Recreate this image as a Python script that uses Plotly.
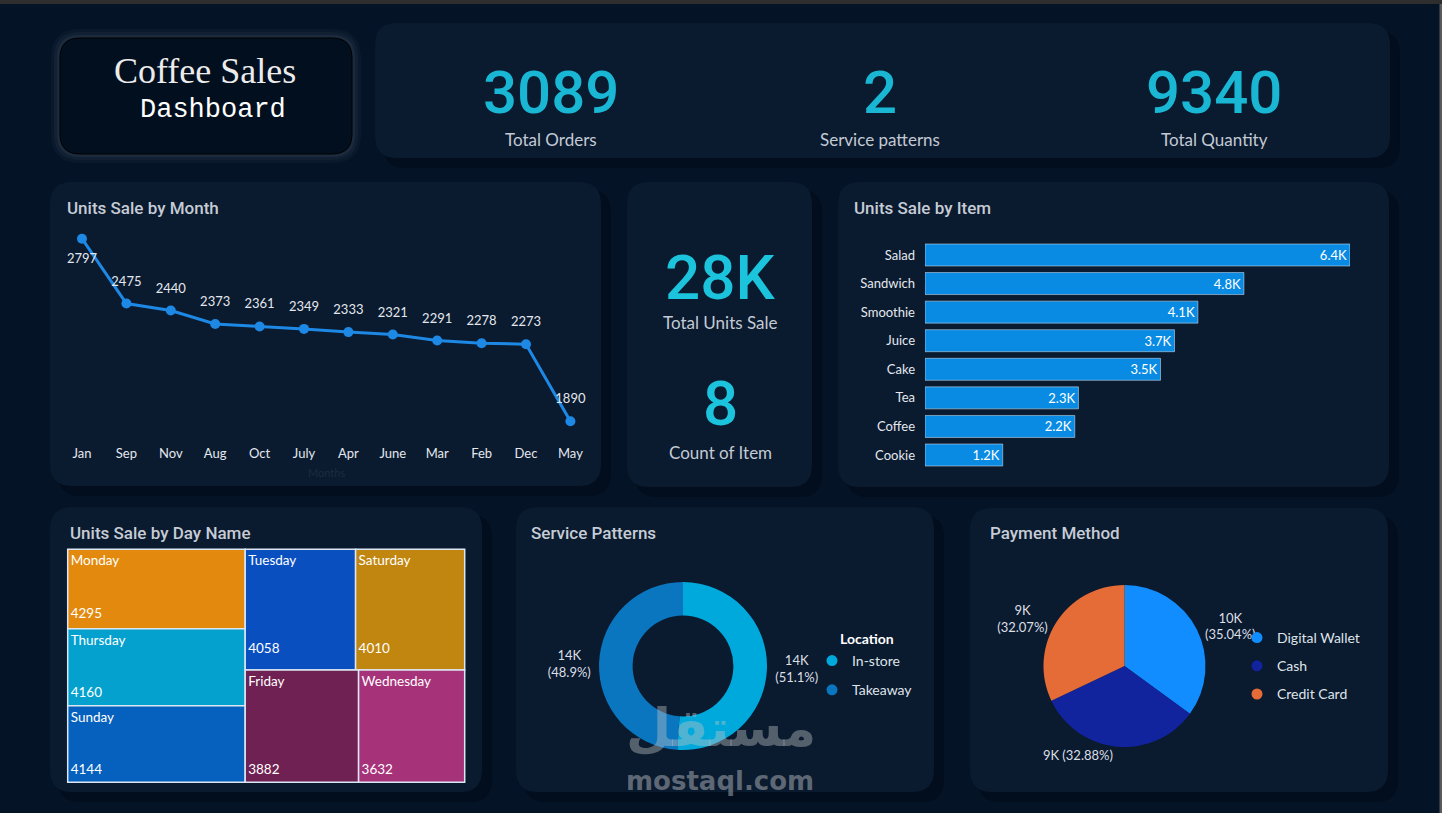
import plotly.graph_objects as go

W, H = 1442, 813

# ---------------- data ----------------
months = ["Jan", "Sep", "Nov", "Aug", "Oct", "July", "Apr", "June", "Mar", "Feb", "Dec", "May"]
month_units = [2797, 2475, 2440, 2373, 2361, 2349, 2333, 2321, 2291, 2278, 2273, 1890]

items = ["Salad", "Sandwich", "Smoothie", "Juice", "Cake", "Tea", "Coffee", "Cookie"]
item_units = [6370, 4780, 4090, 3740, 3530, 2300, 2245, 1165]

days = ["Monday", "Thursday", "Sunday", "Tuesday", "Saturday", "Friday", "Wednesday"]
day_units = [4295, 4160, 4144, 4058, 4010, 3882, 3632]

locations = ["In-store", "Takeaway"]
location_units = [14400, 13781]

payments = ["Digital Wallet", "Cash", "Credit Card"]
payment_units = [9875, 9266, 9038]

kpi_top_values = ["3089", "2", "9340"]
kpi_top_labels = ["Total Orders", "Service patterns", "Total Quantity"]
kpi_mid_values = ["28K", "8"]
kpi_mid_labels = ["Total Units Sale", "Count of Item"]

# ---------------- styles ----------------
BG = "#041326"
PANEL = "#0a1a2f"
CYAN = "#19b7d4"
LINE_BLUE = "#1e88e5"
BAR_BLUE = "#0a8be3"
TITLE_C = "#c6ccd5"
TXT = "#e4e8ee"
FONT = "Lato, 'Open Sans', sans-serif"
TFONT = "Roboto, 'Noto Sans', sans-serif"

day_colors = {"Monday": "#e38a0e", "Thursday": "#04a1cf", "Sunday": "#0660bd",
              "Tuesday": "#0a4fbf", "Saturday": "#c1860f", "Friday": "#6f2153",
              "Wednesday": "#a6337a"}
day_gap = {"Monday": 3, "Thursday": 3, "Sunday": 3, "Tuesday": 5, "Saturday": 5,
           "Friday": 5, "Wednesday": 5}
loc_colors = ["#00a9dc", "#0a76bf"]
pay_colors = ["#118dff", "#12239e", "#e66c37"]


def P(x, y):
    return f"{x / W:.5f},{1 - y / H:.5f}"


def rr(x0, y0, x1, y1, r, fill, line=None, lw=0, layer="below"):
    path = (f"M{P(x0 + r, y0)} L{P(x1 - r, y0)} Q{P(x1, y0)} {P(x1, y0 + r)} "
            f"L{P(x1, y1 - r)} Q{P(x1, y1)} {P(x1 - r, y1)} L{P(x0 + r, y1)} "
            f"Q{P(x0, y1)} {P(x0, y1 - r)} L{P(x0, y0 + r)} Q{P(x0, y0)} {P(x0 + r, y0)} Z")
    return dict(type="path", path=path, xref="paper", yref="paper", fillcolor=fill,
                line=dict(color=line or "rgba(0,0,0,0)", width=lw), layer=layer)


def xd(a, b):
    return [a / W, b / W]


def yd(top, bottom):
    return [1 - bottom / H, 1 - top / H]


fig = go.Figure()

# Line chart
fig.add_trace(go.Scatter(
    x=months, y=month_units, mode="lines+markers",
    line=dict(color=LINE_BLUE, width=3), marker=dict(color=LINE_BLUE, size=10),
    cliponaxis=False, showlegend=False, hoverinfo="x+y", xaxis="x", yaxis="y"))
# data labels (transparent larger markers give the label offset)
fig.add_trace(go.Scatter(
    x=months, y=month_units, mode="markers+text",
    text=[str(v) for v in month_units],
    textposition=["bottom center"] + ["top center"] * (len(months) - 1),
    textfont=dict(family=FONT, size=13, color=TXT),
    marker=dict(color="rgba(0,0,0,0)", size=22),
    cliponaxis=False, showlegend=False, hoverinfo="skip", xaxis="x", yaxis="y"))

# Bar chart
fig.add_trace(go.Bar(
    x=item_units, y=items, orientation="h", marker=dict(color=BAR_BLUE),
    text=[f"{v / 1000:.1f}K" for v in item_units], textposition="inside",
    insidetextanchor="end", textangle=0,
    textfont=dict(family=FONT, size=13, color="#ffffff"),
    showlegend=False, xaxis="x2", yaxis="y2"))

# Treemap
fig.add_trace(go.Treemap(
    labels=days, parents=[""] * len(days), values=day_units, sort=True,
    marker=dict(colors=[day_colors[d] for d in days], line=dict(color="#dbe7f2", width=1.5),
                pad=dict(t=0, l=0, r=0, b=0)),
    texttemplate=["%{label}" + "<br>" * day_gap[d] + "%{value:d}" for d in days],
    textposition="top left",
    textfont=dict(family=FONT, size=13.5, color="#ffffff"),
    tiling=dict(packing="squarify", squarifyratio=1.618034, pad=0),
    pathbar=dict(visible=False),
    domain=dict(x=xd(67.7, 464.7), y=yd(549.3, 782.3))))

# Donut
cx, cy, r = 683, 666, 84
fig.add_trace(go.Pie(
    labels=locations, values=location_units, hole=0.6, sort=False,
    direction="clockwise", rotation=0,
    marker=dict(colors=loc_colors, line=dict(width=0)),
    text=[f"{round(v / 1000)}K" for v in location_units],
    texttemplate="%{text}<br>(%{percent:.1%})", textposition="outside",
    outsidetextfont=dict(family=FONT, size=13, color="#dcdfe4"),
    showlegend=False, domain=dict(x=xd(cx - r, cx + r), y=yd(cy - r, cy + r))))

# Pie
cx2, cy2, r2 = 1124.5, 666, 81
fig.add_trace(go.Pie(
    labels=payments, values=payment_units, sort=False,
    direction="clockwise", rotation=0,
    marker=dict(colors=pay_colors, line=dict(width=0)),
    text=[f"{round(v / 1000)}K" for v in payment_units],
    texttemplate=["%{text}<br>(%{percent:.2%})", "%{text} (%{percent:.2%})",
                  "%{text}<br>(%{percent:.2%})"],
    textposition="outside",
    outsidetextfont=dict(family=FONT, size=13, color="#dcdfe4"),
    showlegend=False, domain=dict(x=xd(cx2 - r2, cx2 + r2), y=yd(cy2 - r2, cy2 + r2))))

# legend entries (circle markers)
for lab, col in zip(locations, loc_colors):
    fig.add_trace(go.Scatter(x=[None], y=[None], mode="markers", name=lab,
                             marker=dict(color=col, size=11), legend="legend2",
                             legendgroup=lab, showlegend=True))
for lab, col in zip(payments, pay_colors):
    fig.add_trace(go.Scatter(x=[None], y=[None], mode="markers", name=lab,
                             marker=dict(color=col, size=11), legend="legend3",
                             legendgroup=lab, showlegend=True))

# ---------------- shapes ----------------
shapes = []
shapes.append(dict(type="rect", xref="paper", yref="paper", x0=0, x1=1, y0=1 - 4 / H, y1=1,
                   fillcolor="#2e2e2e", line=dict(width=0), layer="below"))
shapes.append(dict(type="rect", xref="paper", yref="paper", x0=1 - 2.5 / W, x1=1, y0=0, y1=1 - 4 / H,
                   fillcolor="#5a5a5a", line=dict(width=0), layer="below"))
panels = [(375, 23, 1390, 158), (50, 182, 601, 486), (627, 182, 812, 487), (838, 182, 1389, 487),
          (50, 507, 482, 792), (516, 507, 934, 792), (970, 508, 1388, 792)]
for (a, b, c, d) in panels:
    shapes.append(rr(a + 8, b + 8, c + 10, d + 10, 22, "rgba(0,4,10,0.3)"))
for (a, b, c, d) in panels:
    shapes.append(rr(a, b, c, d, 22, PANEL))
# title box glow
for g, op in [(9, 0.04), (6, 0.05), (3, 0.07)]:
    shapes.append(rr(60 - g, 38 - g, 352 + g, 154 + g, 20 + g, f"rgba(170,180,195,{op})"))
shapes.append(rr(60, 38, 352, 154, 20, "#020f1e", line="#000000", lw=1))

# ---------------- annotations ----------------
ann = []


def T(x, y, text, size, color, family=FONT, xanchor="center", weight=None):
    f = dict(family=family, size=size, color=color)
    if weight:
        f["weight"] = weight
    ann.append(dict(x=x / W, y=1 - y / H, xref="paper", yref="paper", text=text,
                    showarrow=False, xanchor=xanchor, yanchor="middle", font=f))


T(205, 71, "Coffee Sales", 36, "#ececec", family="'Liberation Serif', 'DejaVu Serif', serif")
T(213, 110, "Dashboard", 27, "#ffffff", family="'Liberation Mono', 'DejaVu Sans Mono', monospace")

for xc, v, lab in zip([551, 880, 1214], kpi_top_values, kpi_top_labels):
    T(xc, 92, v, 60, CYAN, family=TFONT, weight=500)
    T(xc, 139, lab, 17, "#c3cad4")

for yc, yl, v, lab in zip([277, 404], [323, 452], kpi_mid_values, kpi_mid_labels):
    T(720, yc, v, 62, "#1cc3dc", family=TFONT, weight=500)
    T(720, yl, lab, 17, "#c3cad4")

T(65, 208, "Units Sale by Month", 17, TITLE_C, family=TFONT, xanchor="left", weight=500)
T(852, 208, "Units Sale by Item", 17, TITLE_C, family=TFONT, xanchor="left", weight=500)
T(68, 533, "Units Sale by Day Name", 17, TITLE_C, family=TFONT, xanchor="left", weight=500)
T(529, 533, "Service Patterns", 17, TITLE_C, family=TFONT, xanchor="left", weight=500)
T(988, 533, "Payment Method", 17, TITLE_C, family=TFONT, xanchor="left", weight=500)
T(326, 472, "Months", 11, "#1c2c3e")
T(838, 638, "Location", 14, "#ffffff", xanchor="left", weight=700)

# watermark
T(721, 728, "مستقل", 52, "rgba(190,192,196,0.42)", family="'DejaVu Sans', sans-serif", weight=700)
T(720, 781, "mostaql.com", 26, "rgba(190,192,196,0.48)", family="'DejaVu Sans', sans-serif", weight=700)

fig.update_layout(
    width=W, height=H, autosize=False, margin=dict(l=0, r=0, t=0, b=0),
    paper_bgcolor=BG, plot_bgcolor="rgba(0,0,0,0)", bargap=0.23,
    shapes=shapes, annotations=ann,
    xaxis=dict(domain=xd(59.8, 592.6), type="category", range=[-0.5, 11.5],
               showgrid=False, zeroline=False, showline=False, ticks="",
               ticklabelstandoff=4,
               tickfont=dict(family=FONT, size=13, color=TXT), fixedrange=True),
    yaxis=dict(domain=yd(220, 440), range=[1797.1, 2889.9], visible=False, fixedrange=True),
    xaxis2=dict(domain=xd(925, 1350), range=[0, max(item_units)], visible=False,
                anchor="y2", fixedrange=True),
    yaxis2=dict(domain=yd(240.7, 469.3), anchor="x2", type="category", autorange="reversed",
                showgrid=False, zeroline=False, showline=False, ticks="",
                ticklabelstandoff=9,
                tickfont=dict(family=FONT, size=13, color=TXT), fixedrange=True),
    legend2=dict(x=812 / W, y=1 - 645 / H, xanchor="left", yanchor="top",
                 bgcolor="rgba(0,0,0,0)", traceorder="grouped", tracegroupgap=8,
                 font=dict(family=FONT, size=14, color="#dfe4ea")),
    legend3=dict(x=1237 / W, y=1 - 622 / H, xanchor="left", yanchor="top",
                 bgcolor="rgba(0,0,0,0)", traceorder="grouped", tracegroupgap=7,
                 font=dict(family=FONT, size=14, color="#dfe4ea")),
    hovermode="closest",
)

fig.write_html("out.html", config={"displayModeBar": False})
